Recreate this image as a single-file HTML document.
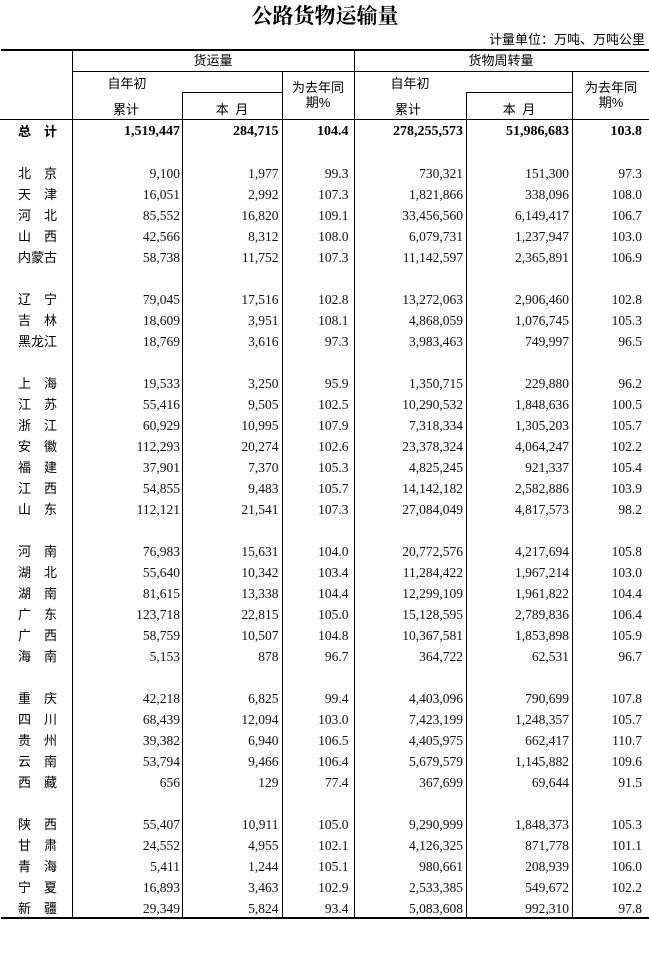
<!DOCTYPE html>
<html><head><meta charset="utf-8">
<style>
html,body{margin:0;padding:0;background:#fff;}
#p{position:relative;width:649px;height:958px;overflow:hidden;background:#fff;color:#000;}
.h{position:absolute;background:#000;}
.t{position:absolute;font-family:"Liberation Sans","Noto Sans CJK SC",sans-serif;font-size:13px;white-space:nowrap;text-align:center;line-height:16px;}
.r{position:absolute;left:0;width:649px;height:21px;line-height:21px;}
.r span{position:absolute;top:0;white-space:nowrap;}
.l{left:18px;font-family:"Liberation Sans","Noto Sans CJK SC",sans-serif;font-size:13px;}
.n{font-family:"Liberation Serif","DejaVu Serif",serif;font-size:13.5px;color:#111;}
.b .n{font-weight:bold;font-size:14px;color:#000;}
.b .l{font-weight:bold;}
.c1{right:469px;}
.c2{right:370.5px;}
.c3{right:300.5px;}
.c4{right:186px;}
.c5{right:80px;}
.c6{right:7px;}
</style></head><body>
<div id="p">
<div class="t" style="left:225px;width:200px;top:4px;line-height:24px;font-size:21px;font-weight:bold;font-family:'Liberation Serif','Noto Serif CJK SC',serif;">公路货物运输量</div>
<div class="t" style="right:4px;top:32px;text-align:right;">计量单位：万吨、万吨公里</div>

<!-- lines -->
<div class="h" style="left:1px;top:49px;width:648px;height:2px;"></div>
<div class="h" style="left:72px;top:71px;width:577px;height:1px;"></div>
<div class="h" style="left:182px;top:92px;width:100px;height:1px;"></div>
<div class="h" style="left:466px;top:92px;width:106px;height:1px;"></div>
<div class="h" style="left:0px;top:119px;width:649px;height:1px;"></div>
<div class="h" style="left:1px;top:917px;width:648px;height:2px;"></div>
<div class="h" style="left:72px;top:51px;width:1px;height:866px;"></div>
<div class="h" style="left:182px;top:92px;width:1px;height:825px;"></div>
<div class="h" style="left:282px;top:71px;width:1px;height:846px;"></div>
<div class="h" style="left:354px;top:51px;width:1px;height:866px;"></div>
<div class="h" style="left:466px;top:92px;width:1px;height:825px;"></div>
<div class="h" style="left:572px;top:71px;width:1px;height:846px;"></div>

<!-- header text -->
<div class="t" style="left:113px;width:200px;top:53px;">货运量</div>
<div class="t" style="left:401px;width:200px;top:53px;">货物周转量</div>
<div class="t" style="left:77px;width:100px;top:76px;">自年初</div>
<div class="t" style="left:360px;width:100px;top:76px;">自年初</div>
<div class="t" style="left:76px;width:100px;top:102px;">累计</div>
<div class="t" style="left:358px;width:100px;top:102px;">累计</div>
<div class="t" style="left:182px;width:100px;top:102px;">本&ensp;月</div>
<div class="t" style="left:469px;width:100px;top:102px;">本&ensp;月</div>
<div class="t" style="left:283px;width:70px;top:80px;">为去年同</div>
<div class="t" style="left:283px;width:70px;top:95px;">期%</div>
<div class="t" style="left:576px;width:70px;top:80px;">为去年同</div>
<div class="t" style="left:576px;width:70px;top:95px;">期%</div>

<!-- rows -->
<div class="r b" style="top:121px"><span class="l">总　计</span><span class="n c1">1,519,447</span><span class="n c2">284,715</span><span class="n c3">104.4</span><span class="n c4">278,255,573</span><span class="n c5">51,986,683</span><span class="n c6">103.8</span></div>

<div class="r" style="top:163px"><span class="l">北　京</span><span class="n c1">9,100</span><span class="n c2">1,977</span><span class="n c3">99.3</span><span class="n c4">730,321</span><span class="n c5">151,300</span><span class="n c6">97.3</span></div>
<div class="r" style="top:184px"><span class="l">天　津</span><span class="n c1">16,051</span><span class="n c2">2,992</span><span class="n c3">107.3</span><span class="n c4">1,821,866</span><span class="n c5">338,096</span><span class="n c6">108.0</span></div>
<div class="r" style="top:205px"><span class="l">河　北</span><span class="n c1">85,552</span><span class="n c2">16,820</span><span class="n c3">109.1</span><span class="n c4">33,456,560</span><span class="n c5">6,149,417</span><span class="n c6">106.7</span></div>
<div class="r" style="top:226px"><span class="l">山　西</span><span class="n c1">42,566</span><span class="n c2">8,312</span><span class="n c3">108.0</span><span class="n c4">6,079,731</span><span class="n c5">1,237,947</span><span class="n c6">103.0</span></div>
<div class="r" style="top:247px"><span class="l">内蒙古</span><span class="n c1">58,738</span><span class="n c2">11,752</span><span class="n c3">107.3</span><span class="n c4">11,142,597</span><span class="n c5">2,365,891</span><span class="n c6">106.9</span></div>

<div class="r" style="top:289px"><span class="l">辽　宁</span><span class="n c1">79,045</span><span class="n c2">17,516</span><span class="n c3">102.8</span><span class="n c4">13,272,063</span><span class="n c5">2,906,460</span><span class="n c6">102.8</span></div>
<div class="r" style="top:310px"><span class="l">吉　林</span><span class="n c1">18,609</span><span class="n c2">3,951</span><span class="n c3">108.1</span><span class="n c4">4,868,059</span><span class="n c5">1,076,745</span><span class="n c6">105.3</span></div>
<div class="r" style="top:331px"><span class="l">黑龙江</span><span class="n c1">18,769</span><span class="n c2">3,616</span><span class="n c3">97.3</span><span class="n c4">3,983,463</span><span class="n c5">749,997</span><span class="n c6">96.5</span></div>

<div class="r" style="top:373px"><span class="l">上　海</span><span class="n c1">19,533</span><span class="n c2">3,250</span><span class="n c3">95.9</span><span class="n c4">1,350,715</span><span class="n c5">229,880</span><span class="n c6">96.2</span></div>
<div class="r" style="top:394px"><span class="l">江　苏</span><span class="n c1">55,416</span><span class="n c2">9,505</span><span class="n c3">102.5</span><span class="n c4">10,290,532</span><span class="n c5">1,848,636</span><span class="n c6">100.5</span></div>
<div class="r" style="top:415px"><span class="l">浙　江</span><span class="n c1">60,929</span><span class="n c2">10,995</span><span class="n c3">107.9</span><span class="n c4">7,318,334</span><span class="n c5">1,305,203</span><span class="n c6">105.7</span></div>
<div class="r" style="top:436px"><span class="l">安　徽</span><span class="n c1">112,293</span><span class="n c2">20,274</span><span class="n c3">102.6</span><span class="n c4">23,378,324</span><span class="n c5">4,064,247</span><span class="n c6">102.2</span></div>
<div class="r" style="top:457px"><span class="l">福　建</span><span class="n c1">37,901</span><span class="n c2">7,370</span><span class="n c3">105.3</span><span class="n c4">4,825,245</span><span class="n c5">921,337</span><span class="n c6">105.4</span></div>
<div class="r" style="top:478px"><span class="l">江　西</span><span class="n c1">54,855</span><span class="n c2">9,483</span><span class="n c3">105.7</span><span class="n c4">14,142,182</span><span class="n c5">2,582,886</span><span class="n c6">103.9</span></div>
<div class="r" style="top:499px"><span class="l">山　东</span><span class="n c1">112,121</span><span class="n c2">21,541</span><span class="n c3">107.3</span><span class="n c4">27,084,049</span><span class="n c5">4,817,573</span><span class="n c6">98.2</span></div>

<div class="r" style="top:541px"><span class="l">河　南</span><span class="n c1">76,983</span><span class="n c2">15,631</span><span class="n c3">104.0</span><span class="n c4">20,772,576</span><span class="n c5">4,217,694</span><span class="n c6">105.8</span></div>
<div class="r" style="top:562px"><span class="l">湖　北</span><span class="n c1">55,640</span><span class="n c2">10,342</span><span class="n c3">103.4</span><span class="n c4">11,284,422</span><span class="n c5">1,967,214</span><span class="n c6">103.0</span></div>
<div class="r" style="top:583px"><span class="l">湖　南</span><span class="n c1">81,615</span><span class="n c2">13,338</span><span class="n c3">104.4</span><span class="n c4">12,299,109</span><span class="n c5">1,961,822</span><span class="n c6">104.4</span></div>
<div class="r" style="top:604px"><span class="l">广　东</span><span class="n c1">123,718</span><span class="n c2">22,815</span><span class="n c3">105.0</span><span class="n c4">15,128,595</span><span class="n c5">2,789,836</span><span class="n c6">106.4</span></div>
<div class="r" style="top:625px"><span class="l">广　西</span><span class="n c1">58,759</span><span class="n c2">10,507</span><span class="n c3">104.8</span><span class="n c4">10,367,581</span><span class="n c5">1,853,898</span><span class="n c6">105.9</span></div>
<div class="r" style="top:646px"><span class="l">海　南</span><span class="n c1">5,153</span><span class="n c2">878</span><span class="n c3">96.7</span><span class="n c4">364,722</span><span class="n c5">62,531</span><span class="n c6">96.7</span></div>

<div class="r" style="top:688px"><span class="l">重　庆</span><span class="n c1">42,218</span><span class="n c2">6,825</span><span class="n c3">99.4</span><span class="n c4">4,403,096</span><span class="n c5">790,699</span><span class="n c6">107.8</span></div>
<div class="r" style="top:709px"><span class="l">四　川</span><span class="n c1">68,439</span><span class="n c2">12,094</span><span class="n c3">103.0</span><span class="n c4">7,423,199</span><span class="n c5">1,248,357</span><span class="n c6">105.7</span></div>
<div class="r" style="top:730px"><span class="l">贵　州</span><span class="n c1">39,382</span><span class="n c2">6,940</span><span class="n c3">106.5</span><span class="n c4">4,405,975</span><span class="n c5">662,417</span><span class="n c6">110.7</span></div>
<div class="r" style="top:751px"><span class="l">云　南</span><span class="n c1">53,794</span><span class="n c2">9,466</span><span class="n c3">106.4</span><span class="n c4">5,679,579</span><span class="n c5">1,145,882</span><span class="n c6">109.6</span></div>
<div class="r" style="top:772px"><span class="l">西　藏</span><span class="n c1">656</span><span class="n c2">129</span><span class="n c3">77.4</span><span class="n c4">367,699</span><span class="n c5">69,644</span><span class="n c6">91.5</span></div>

<div class="r" style="top:814px"><span class="l">陕　西</span><span class="n c1">55,407</span><span class="n c2">10,911</span><span class="n c3">105.0</span><span class="n c4">9,290,999</span><span class="n c5">1,848,373</span><span class="n c6">105.3</span></div>
<div class="r" style="top:835px"><span class="l">甘　肃</span><span class="n c1">24,552</span><span class="n c2">4,955</span><span class="n c3">102.1</span><span class="n c4">4,126,325</span><span class="n c5">871,778</span><span class="n c6">101.1</span></div>
<div class="r" style="top:856px"><span class="l">青　海</span><span class="n c1">5,411</span><span class="n c2">1,244</span><span class="n c3">105.1</span><span class="n c4">980,661</span><span class="n c5">208,939</span><span class="n c6">106.0</span></div>
<div class="r" style="top:877px"><span class="l">宁　夏</span><span class="n c1">16,893</span><span class="n c2">3,463</span><span class="n c3">102.9</span><span class="n c4">2,533,385</span><span class="n c5">549,672</span><span class="n c6">102.2</span></div>
<div class="r" style="top:898px"><span class="l">新　疆</span><span class="n c1">29,349</span><span class="n c2">5,824</span><span class="n c3">93.4</span><span class="n c4">5,083,608</span><span class="n c5">992,310</span><span class="n c6">97.8</span></div>
</div>
</body></html>
